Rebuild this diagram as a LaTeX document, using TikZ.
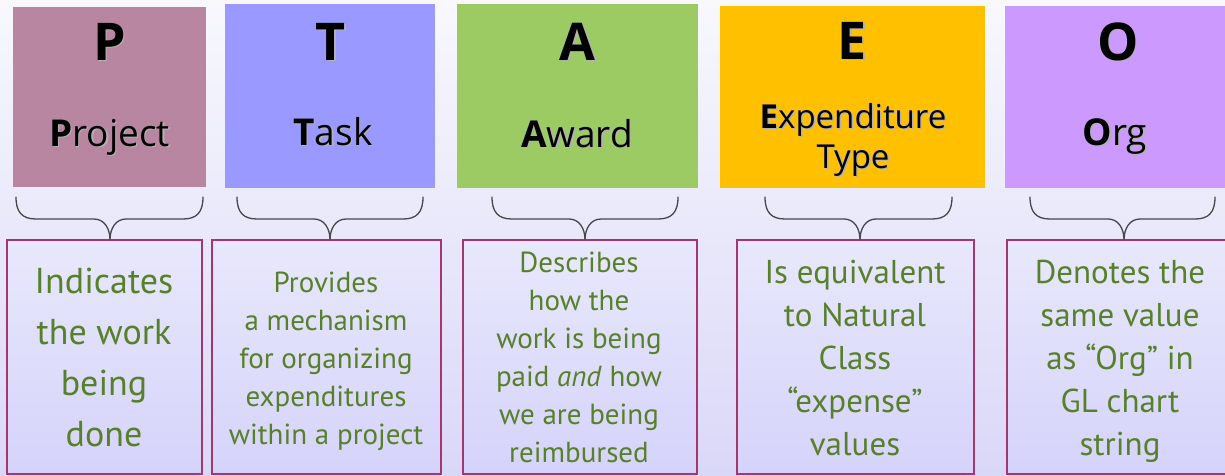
\documentclass[tikz,border=0pt]{standalone}
\usepackage{fontspec}
\usetikzlibrary{calc}
\setmainfont{Open Sans}
\newfontfamily\descfont{PT Sans}
\definecolor{bgtop}{RGB}{248,248,253}
\definecolor{bgbot}{RGB}{218,216,248}
\definecolor{boxtop}{RGB}{232,232,252}
\definecolor{boxbot}{RGB}{213,211,250}
\definecolor{pcol}{RGB}{184,134,160}
\definecolor{tcol}{RGB}{153,153,255}
\definecolor{acol}{RGB}{155,203,98}
\definecolor{ecol}{RGB}{255,192,0}
\definecolor{ocol}{RGB}{204,153,255}
\definecolor{bordercol}{RGB}{165,55,110}
\definecolor{txtgreen}{RGB}{88,128,42}
\definecolor{bracecol}{RGB}{70,70,75}
\newcommand\shd[1]{\rlap{\kern1.5pt\raisebox{-1.5pt}{\textcolor{black!30}{#1}}}#1}
\begin{document}
\begin{tikzpicture}[x=1pt,y=-1pt,
  bigletter/.style={anchor=base, inner sep=0, font=\fontsize{52}{56}\selectfont\bfseries},
  toplabel/.style={anchor=base, inner sep=0, font=\fontsize{37}{40}\selectfont},
  descbox/.style={draw=bordercol, line width=2pt, top color=boxtop, bottom color=boxbot},
  desctext/.style={anchor=north, inner sep=0, align=center, text=txtgreen},
  bracestyle/.style={draw=bracecol, line width=1.3pt, line cap=round}]
\useasboundingbox (0,0) rectangle (1225,475);
\shade[top color=bgtop, bottom color=bgbot] (0,0) rectangle (1225,475);
\clip (0,0) rectangle (1225,475);

% top coloured boxes
\fill[pcol] (13,7) rectangle (206,187);
\fill[tcol] (225,4) rectangle (435,188);
\fill[acol] (457,4) rectangle (698,188);
\fill[ecol] (720,6) rectangle (985,188);
\fill[ocol] (1005,6) rectangle (1235,188);

\node[bigletter] (pL) at (109.5,60) {\shd{P}};
\node[bigletter] (tL) at (331,60) {\shd{T}};
\node[bigletter] (aL) at (577.5,60) {\shd{A}};
\node[bigletter] (eL) at (852.5,59) {\shd{E}};
\node[bigletter] (oL) at (1118,60) {\shd{O}};

\node[toplabel] (pN) at (109.5,146) {\shd{\textbf{P}roject}};
\node[toplabel] (tN) at (333,145) {\shd{\textbf{T}ask}};
\node[toplabel] (aN) at (577,147) {\shd{\textbf{A}ward}};
\node[toplabel, align=center, anchor=north, font=\fontsize{33}{40}\selectfont] (eN) at (853,128-28) {\rule{0pt}{28pt}\shd{\textbf{E}xpenditure}\\\shd{Type}};
\node[toplabel] (oN) at (1115,145) {\shd{\textbf{O}rg}};

% bottom description boxes
\draw[descbox] (7,240) rectangle (202,474);
\draw[descbox] (212,240) rectangle (441,474);
\draw[descbox] (463,240) rectangle (697,474);
\draw[descbox] (737,240) rectangle (974,474);
\draw[descbox] (1007,240) rectangle (1240,474);

\node[desctext, font=\descfont\fontsize{36}{51}\selectfont] (pD) at (104,293-30)
  {\rule{0pt}{30pt}Indicates\\the work\\being\\done};
\node[desctext, font=\descfont\fontsize{29}{38}\selectfont] (tD) at (326,292-30)
  {\rule{0pt}{30pt}Provides\\a mechanism\\for organizing\\expenditures\\within a project};
\node[desctext, font=\descfont\fontsize{29}{38}\selectfont] (aD) at (579,272-30)
  {\rule{0pt}{30pt}Describes\\how the\\work is being\\paid \emph{and} how\\we are being\\reimbursed};
\node[desctext, font=\descfont\fontsize{33}{43}\selectfont] (eD) at (855,283-30)
  {\rule{0pt}{30pt}Is equivalent\\to Natural\\Class\\“expense”\\values};
\node[desctext, font=\descfont\fontsize{33}{43}\selectfont] (oD) at (1120,283-30)
  {\rule{0pt}{30pt}Denotes the\\same value\\as “Org” in\\GL chart\\string};

% braces
\foreach \n/\xl/\xt/\xr in {p/16/110/203, t/237/330/423, a/492/585/678, e/765/860/952, o/1030/1124/1215}{
  \coordinate (\n bl) at (\xl,197);
  \coordinate (\n bt) at (\xt,240);
  \coordinate (\n br) at (\xr,197);
  \coordinate (\n hl) at ($(\n bl)+(20,22)$);
  \coordinate (\n cl) at ($(\n bt)+(-16,-21)$);
  \coordinate (\n cr) at ($(\n bt)+(16,-21)$);
  \coordinate (\n hr) at ($(\n br)+(-20,22)$);
  \draw[bracestyle] (\n bl) .. controls ($(\n bl)+(0,15)$) and ($(\n hl)+(-14,0)$) .. (\n hl)
     -- (\n cl) .. controls ($(\n cl)+(10,0)$) and ($(\n bt)+(0,-12)$) .. (\n bt)
     .. controls ($(\n bt)+(0,-12)$) and ($(\n cr)+(-10,0)$) .. (\n cr)
     -- (\n hr) .. controls ($(\n hr)+(14,0)$) and ($(\n br)+(0,15)$) .. (\n br);
}
\end{tikzpicture}
\end{document}
